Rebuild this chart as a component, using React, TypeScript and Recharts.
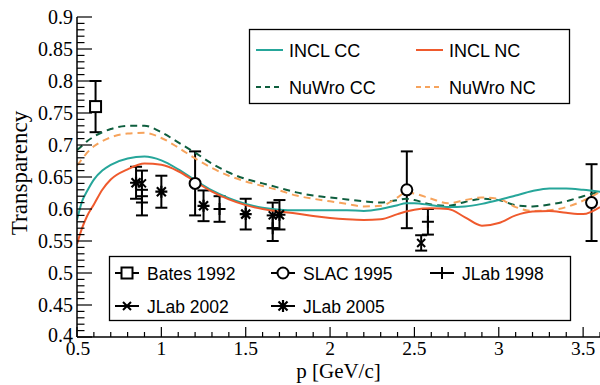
import React from 'react';
import {
  ComposedChart,
  Line,
  Scatter,
  ErrorBar,
  XAxis,
  YAxis,
  Label
} from 'recharts';

// momentum grid shared by the four model curves
const pGrid = [
  0.5, 0.53, 0.56, 0.6, 0.65, 0.7, 0.8, 0.9, 1.0, 1.1, 1.2, 1.3, 1.4, 1.5, 1.6, 1.7, 1.8, 1.9,
  2.0, 2.1, 2.2, 2.3, 2.4, 2.45, 2.5, 2.6, 2.7, 2.8, 2.9, 3.0, 3.1, 3.2, 3.3, 3.4, 3.5, 3.6
];

const inclCC = [
  0.583, 0.612, 0.628, 0.646, 0.66, 0.669, 0.679, 0.682, 0.676, 0.662, 0.645, 0.629, 0.617, 0.608,
  0.602, 0.599, 0.598, 0.598, 0.598, 0.598, 0.597, 0.6, 0.606, 0.609, 0.609, 0.606, 0.603, 0.604,
  0.608, 0.614, 0.621, 0.628, 0.632, 0.632, 0.63, 0.627
];
const inclNC = [
  0.545, 0.57, 0.589, 0.607, 0.63, 0.646, 0.662, 0.671, 0.669, 0.659, 0.643, 0.627, 0.615, 0.606,
  0.6, 0.596, 0.593, 0.589, 0.586, 0.584, 0.583, 0.584, 0.592, 0.596, 0.599, 0.601, 0.6, 0.587,
  0.574, 0.578, 0.59, 0.596, 0.597, 0.594, 0.592, 0.603
];
const nuwroCC = [
  0.692, 0.699, 0.706, 0.713, 0.72, 0.725, 0.73, 0.73, 0.72, 0.704, 0.688, 0.671, 0.657, 0.647,
  0.64, 0.633, 0.626, 0.621, 0.618, 0.615, 0.612, 0.61, 0.614, 0.616, 0.614, 0.607, 0.605, 0.611,
  0.616, 0.614, 0.606, 0.604, 0.607, 0.612, 0.62, 0.627
];
const nuwroNC = [
  0.668, 0.678, 0.688, 0.698, 0.706, 0.712, 0.718, 0.719, 0.711, 0.696, 0.679, 0.664, 0.652, 0.643,
  0.636, 0.629, 0.621, 0.616, 0.612, 0.608, 0.604, 0.605, 0.618, 0.626, 0.624, 0.616, 0.609, 0.614,
  0.618, 0.616, 0.603, 0.597, 0.598, 0.603, 0.613, 0.627
];

// measurements: p, transparency, error
const bates1992 = [{ x: 0.61, y: 0.76, err: 0.04 }];
const slac1995 = [
  { x: 1.2, y: 0.64, err: 0.05 },
  { x: 2.455, y: 0.63, err: 0.06 },
  { x: 3.55, y: 0.61, err: 0.06 }
];
const jlab1998 = [
  { x: 0.885, y: 0.61, err: 0.02 },
  { x: 1.345, y: 0.6, err: 0.02 },
  { x: 1.66, y: 0.57, err: 0.02 },
  { x: 2.58, y: 0.58, err: 0.02 }
];
const jlab2002 = [
  { x: 0.885, y: 0.64, err: 0.02 },
  { x: 1.66, y: 0.59, err: 0.02 },
  { x: 2.54, y: 0.547, err: 0.012 }
];
const jlab2005 = [
  { x: 0.85, y: 0.641, err: 0.025 },
  { x: 1.0, y: 0.627, err: 0.025 },
  { x: 1.25, y: 0.605, err: 0.024 },
  { x: 1.5, y: 0.592, err: 0.024 },
  { x: 1.7, y: 0.591, err: 0.023 }
];

const xTicks = Array.from({ length: 32 }, (_, i) => Math.round((0.5 + i * 0.1) * 10) / 10);
const yTicks = Array.from({ length: 51 }, (_, i) => Math.round((0.4 + i * 0.01) * 100) / 100);

const COLORS = {
  inclCC: '#26a69a',
  inclNC: '#ef5a2d',
  nuwroCC: '#0e5e3e',
  nuwroNC: '#f6a35c'
};

const SERIF = '"Liberation Serif", "Times New Roman", serif';
const SANS = '"Liberation Sans", Arial, sans-serif';

const toPoints = (ys: number[]) => pGrid.map((x, i) => ({ x, y: ys[i] }));

const XTick = (props: any) => {
  const { x, y, payload } = props;
  const v = payload.value;
  const major = Math.abs(v * 2 - Math.round(v * 2)) < 1e-6;
  return (
    <g>
      <line x1={x} y1={y} x2={x} y2={y - (major ? 10 : 5)} stroke="#000" strokeWidth={1.2} />
      {major && (
        <text x={x + (v === 0.5 ? 1 : 0)} y={y + 18} textAnchor="middle" fontFamily={SERIF} fontSize={19.5} fill="#000">
          {String(v)}
        </text>
      )}
    </g>
  );
};

const YTick = (props: any) => {
  const { x, y, payload } = props;
  const v = payload.value;
  const major = Math.abs(v * 20 - Math.round(v * 20)) < 1e-6;
  return (
    <g>
      <line x1={x} y1={y} x2={x + (major ? 15 : 7.5)} y2={y} stroke="#000" strokeWidth={1.2} />
      {major && (
        <text x={x - 4} y={y + (v === 0.4 ? 5 : 7)} textAnchor="end" fontFamily={SERIF} fontSize={20} fill="#000">
          {String(v)}
        </text>
      )}
    </g>
  );
};

// marker shapes
const Square = ({ cx, cy }: any) => (
  <rect x={cx - 5.5} y={cy - 5.5} width={11} height={11} fill="#fff" stroke="#000" strokeWidth={2} />
);
const Circle = ({ cx, cy }: any) => (
  <circle cx={cx} cy={cy} r={5.5} fill="#fff" stroke="#000" strokeWidth={2} />
);
const Plus = ({ cx, cy }: any) => (
  <path d={`M${cx - 6},${cy}H${cx + 6}M${cx},${cy - 6}V${cy + 6}`} stroke="#000" strokeWidth={2} />
);
const Cross = ({ cx, cy }: any) => (
  <path d={`M${cx - 4},${cy - 4}L${cx + 4},${cy + 4}M${cx - 4},${cy + 4}L${cx + 4},${cy - 4}`} stroke="#000" strokeWidth={2} />
);
const Star = ({ cx, cy }: any) => (
  <path
    d={`M${cx - 6},${cy}H${cx + 6}M${cx},${cy - 6}V${cy + 6}M${cx - 4.5},${cy - 4.5}L${cx + 4.5},${cy + 4.5}M${cx - 4.5},${cy + 4.5}L${cx + 4.5},${cy - 4.5}`}
    stroke="#000"
    strokeWidth={2.2}
  />
);

const modelLegend = [
  { name: 'INCL CC', color: COLORS.inclCC, dash: undefined, col: 0, row: 0 },
  { name: 'INCL NC', color: COLORS.inclNC, dash: undefined, col: 1, row: 0 },
  { name: 'NuWro CC', color: COLORS.nuwroCC, dash: '5 4', col: 0, row: 1 },
  { name: 'NuWro NC', color: COLORS.nuwroNC, dash: '5 4', col: 1, row: 1 }
];

const dataLegend = [
  { name: 'Bates 1992', Shape: Square, col: 0, row: 0 },
  { name: 'SLAC 1995', Shape: Circle, col: 1, row: 0 },
  { name: 'JLab 1998', Shape: Plus, col: 2, row: 0 },
  { name: 'JLab 2002', Shape: Cross, col: 0, row: 1 },
  { name: 'JLab 2005', Shape: Star, col: 1, row: 1 }
];

function Legends() {
  const m1 = [256, 416];
  const r1 = [50, 87];
  const m2 = [115, 271, 430];
  const r2 = [273, 306];
  return (
    <svg width={600} height={385} style={{ position: 'absolute', left: 0, top: 0, pointerEvents: 'none' }}>
      <rect x={249.5} y={29.5} width={320} height={74} fill="#fff" stroke="#000" strokeWidth={1.3} />
      {modelLegend.map((d) => (
        <g key={d.name}>
          <line
            x1={m1[d.col]} x2={m1[d.col] + 27} y1={r1[d.row]} y2={r1[d.row]}
            stroke={d.color} strokeWidth={2} strokeDasharray={d.dash}
          />
          <text x={m1[d.col] + 33} y={r1[d.row] + 6.5} fontFamily={SANS} fontSize={18} fill="#000">
            {d.name}
          </text>
        </g>
      ))}
      <rect x={109.5} y={256.5} width={461} height={64} fill="#fff" stroke="#000" strokeWidth={1.3} />
      {dataLegend.map((d) => {
        const x0 = m2[d.col];
        const y0 = r2[d.row];
        return (
          <g key={d.name}>
            <line x1={x0} x2={x0 + 24} y1={y0} y2={y0} stroke="#000" strokeWidth={2} />
            <d.Shape cx={x0 + 12} cy={y0} />
            <text x={x0 + 32} y={y0 + 6.5} fontFamily={SANS} fontSize={17.5} fill="#000">
              {d.name}
            </text>
          </g>
        );
      })}
    </svg>
  );
}

const scatterSets = [
  { key: 'bates', data: bates1992, Shape: Square },
  { key: 'slac', data: slac1995, Shape: Circle },
  { key: 'jlab98', data: jlab1998, Shape: Plus },
  { key: 'jlab02', data: jlab2002, Shape: Cross },
  { key: 'jlab05', data: jlab2005, Shape: Star }
];

const curveSets = [
  { key: 'nuwroCC', ys: nuwroCC, color: COLORS.nuwroCC, dash: '7 5' },
  { key: 'nuwroNC', ys: nuwroNC, color: COLORS.nuwroNC, dash: '7 5' },
  { key: 'inclCC', ys: inclCC, color: COLORS.inclCC, dash: undefined },
  { key: 'inclNC', ys: inclNC, color: COLORS.inclNC, dash: undefined }
];

export default function App() {
  return (
    <div style={{ position: 'absolute', left: 0, top: 0, width: 600, height: 385, background: '#fff' }}>
      <ComposedChart width={600} height={385} margin={{ top: 17, right: 0, bottom: 0, left: 0 }}>
        <XAxis
          type="number"
          dataKey="x"
          domain={[0.5, 3.6]}
          ticks={xTicks}
          interval={0}
          allowDataOverflow
          height={48}
          tickSize={0}
          tickMargin={0}
          tick={<XTick />}
          axisLine={{ stroke: '#000', strokeWidth: 1.5 }}
        >
          <Label
            content={(p: any) => (
              <text
                x={p.viewBox.x + p.viewBox.width / 2}
                y={p.viewBox.y + 41}
                textAnchor="middle"
                fontFamily={SERIF}
                fontSize={21}
                fill="#000"
              >
                p [GeV/c]
              </text>
            )}
          />
        </XAxis>
        <YAxis
          type="number"
          dataKey="y"
          domain={[0.4, 0.9]}
          ticks={yTicks}
          interval={0}
          allowDataOverflow
          width={77}
          tickSize={0}
          tickMargin={0}
          tick={<YTick />}
          axisLine={{ stroke: '#000', strokeWidth: 1.5 }}
        >
          <Label
            content={(p: any) => {
              const cx = p.viewBox.x + 27;
              const cy = p.viewBox.y + p.viewBox.height / 2 - 4;
              return (
                <text
                  x={cx}
                  y={cy}
                  transform={`rotate(-90, ${cx}, ${cy})`}
                  textAnchor="middle"
                  fontFamily={SERIF}
                  fontSize={23}
                  fill="#000"
                >
                  Transparency
                </text>
              );
            }}
          />
        </YAxis>
        {scatterSets.map((s) => (
          <Scatter
            key={s.key}
            data={s.data}
            dataKey="y"
            isAnimationActive={false}
            shape={(p: any) => <s.Shape cx={p.cx} cy={p.cy} />}
          >
            <ErrorBar dataKey="err" direction="y" width={6} stroke="#000" strokeWidth={2} isAnimationActive={false} />
          </Scatter>
        ))}
        {curveSets.map((c) => (
          <Line
            key={c.key}
            data={toPoints(c.ys)}
            dataKey="y"
            type="monotone"
            stroke={c.color}
            strokeWidth={2}
            strokeDasharray={c.dash}
            dot={false}
            activeDot={false}
            isAnimationActive={false}
          />
        ))}
      </ComposedChart>
      <Legends />
    </div>
  );
}
